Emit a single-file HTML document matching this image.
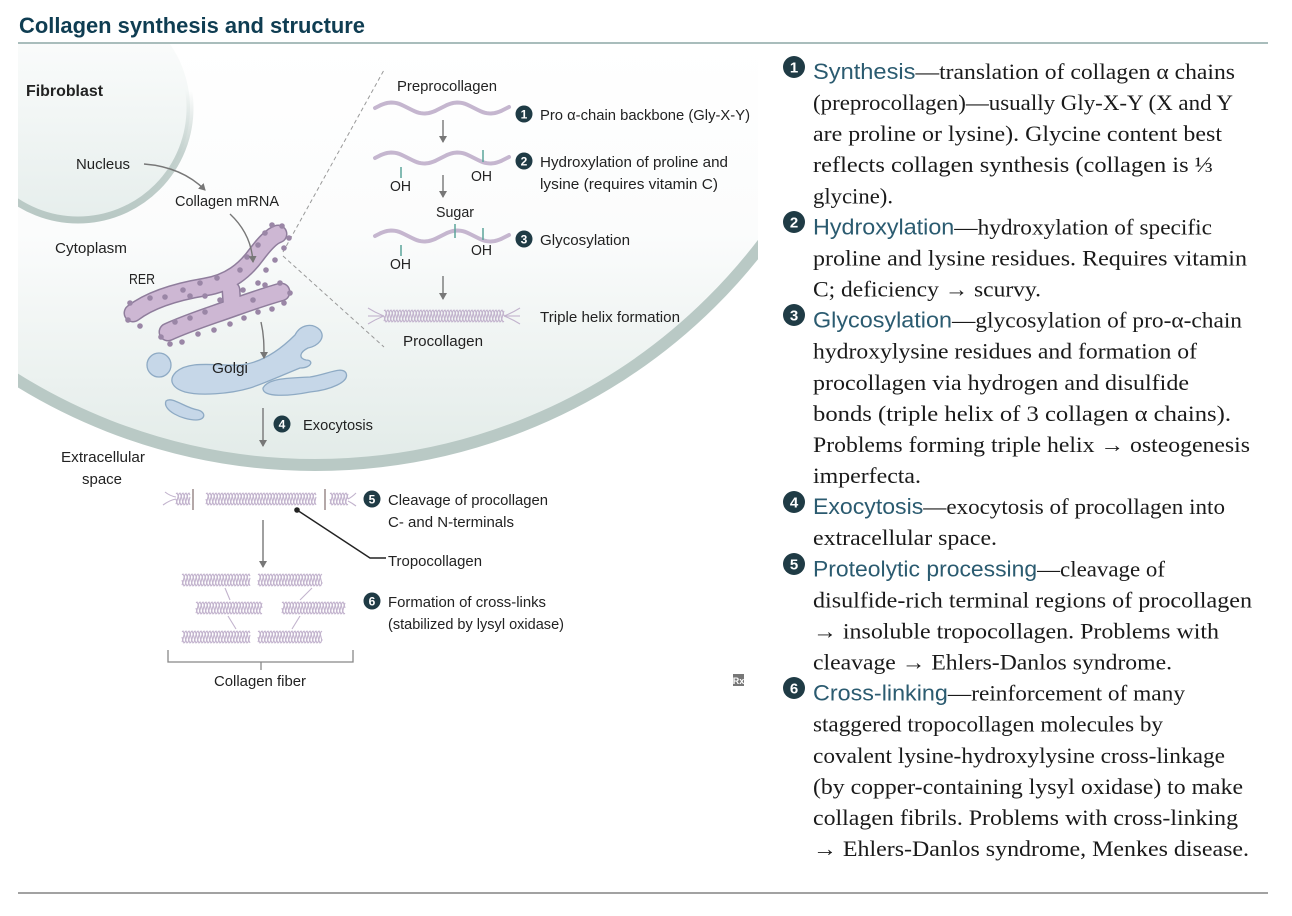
<!DOCTYPE html>
<html><head><meta charset="utf-8"><style>
html,body{margin:0;padding:0;background:#fff;width:1292px;height:916px;overflow:hidden}
svg{position:absolute;left:0;top:0}
.s{font-family:"Liberation Sans",sans-serif;font-size:15px;fill:#222}
.r{font-family:"Liberation Serif",serif;font-size:22px;fill:#1a1a1a}
.h{font-family:"Liberation Sans",sans-serif;fill:#2b5b70}
.n{font-family:"Liberation Sans",sans-serif;font-weight:bold;fill:#fff;text-anchor:middle}
</style></head><body>
<svg width="1292" height="916" viewBox="0 0 1292 916" xmlns="http://www.w3.org/2000/svg">
<defs>
<linearGradient id="cg" x1="0" y1="44" x2="0" y2="465" gradientUnits="userSpaceOnUse">
<stop offset="0" stop-color="#ffffff"/><stop offset="0.45" stop-color="#fbfcfc"/><stop offset="1" stop-color="#e2ebe8"/></linearGradient>
<linearGradient id="ng" x1="0" y1="-4" x2="0" y2="220" gradientUnits="userSpaceOnUse"><stop offset="0" stop-color="#b8c8c4" stop-opacity="0"/><stop offset="0.42" stop-color="#b8c8c4" stop-opacity="0"/><stop offset="0.7" stop-color="#b8c8c4" stop-opacity="0.8"/><stop offset="1" stop-color="#b8c8c4"/></linearGradient>
<linearGradient id="nf" x1="0" y1="0" x2="0" y2="1"><stop offset="0" stop-color="#fff"/><stop offset="1" stop-color="#e6eeec"/></linearGradient>
<clipPath id="cp"><rect x="18" y="44" width="740" height="500"/></clipPath>
<marker id="ar" markerWidth="8" markerHeight="8" refX="6" refY="4" orient="auto" markerUnits="userSpaceOnUse"><path d="M0,0 L7,4 L0,8 z" fill="#777"/></marker>
</defs>
<text x="19" y="33" style="font-family:'Liberation Sans',sans-serif;font-weight:bold;font-size:22px;fill:#0f3d52" textLength="346" lengthAdjust="spacingAndGlyphs">Collagen synthesis and structure</text>
<line x1="18" y1="43" x2="1268" y2="43" stroke="#a9bdbc" stroke-width="2"/>
<line x1="18" y1="893" x2="1268" y2="893" stroke="#444" stroke-width="1"/>
<g clip-path="url(#cp)">
<ellipse cx="315" cy="-90" rx="560" ry="555" fill="url(#cg)" stroke="#b9c9c5" stroke-width="12"/>
<circle cx="78" cy="108" r="112" fill="url(#nf)" stroke="url(#ng)" stroke-width="7"/>
</g>
<line x1="283" y1="252" x2="384" y2="70" stroke="#999" stroke-width="1" stroke-dasharray="4,3"/>
<line x1="283" y1="256" x2="384" y2="347" stroke="#999" stroke-width="1" stroke-dasharray="4,3"/>
<g fill="none" stroke-linecap="round" stroke-linejoin="round">
<g stroke="#8f7d9c" stroke-width="19">
<path d="M133,313 C150,300 175,292 205,287 C230,283 245,270 256,255 C265,243 272,236 278,234"/>
<path d="M168,332 C190,322 210,316 235,307 C255,300 270,295 281,292"/>
<path d="M231,290 L232,305"/>
</g>
<g stroke="#cdb7d3" stroke-width="16">
<path d="M133,313 C150,300 175,292 205,287 C230,283 245,270 256,255 C265,243 272,236 278,234"/>
<path d="M168,332 C190,322 210,316 235,307 C255,300 270,295 281,292"/>
<path d="M231,290 L232,305"/>
</g>
</g>
<g id="dots" fill="#9a86a6"></g>
<g fill="#c6d7e8" stroke="#8eaac4" stroke-width="1.3">
<circle cx="159" cy="365" r="12"/>
<path d="M176,372 C190,360 215,366 240,365 C262,363 280,350 295,335 C300,325 312,322 320,330 C326,338 318,346 308,348 C300,352 298,358 306,360 C314,360 312,368 300,368 C285,374 268,382 250,388 C230,394 200,396 185,392 C172,388 168,380 176,372 Z"/>
<path d="M263,388 C268,378 290,378 310,377 C328,374 342,366 346,373 C350,382 330,390 310,392 C290,396 262,398 263,388 Z"/>
<path d="M166,401 C172,396 185,408 198,410 C206,412 206,420 196,420 C182,420 162,410 166,401 Z"/>
</g>
<g stroke="#777" stroke-width="1.4" fill="none" marker-end="url(#ar)">
<path d="M144,164 C170,166 190,175 205,190"/>
<path d="M230,214 C245,228 252,245 253,262"/>
<path d="M261,322 C264,335 264,345 264,358"/>
<path d="M263,408 L263,446"/>
<path d="M443,120 L443,142"/>
<path d="M443,175 L443,197"/>
<path d="M443,276 L443,299"/>
<path d="M263,520 L263,567"/>
</g>
<g id="chains" fill="none" stroke="#c5b6cf" stroke-width="4" stroke-linecap="round"></g>
<g stroke="#5ba59a" stroke-width="1.5">
<line x1="401" y1="167" x2="401" y2="178"/><line x1="483" y1="150" x2="483" y2="162"/>
<line x1="455" y1="224" x2="455" y2="238"/>
<line x1="401" y1="245" x2="401" y2="256"/><line x1="483" y1="228" x2="483" y2="240"/>
</g>
<g id="helix" fill="none" stroke="#c2b3cd" stroke-width="1.1"></g>
<g stroke="#9a8a8a" stroke-width="1.5">
<line x1="193" y1="489" x2="193" y2="510"/><line x1="325" y1="489" x2="325" y2="510"/>
</g>
<circle cx="297" cy="510" r="2.8" fill="#222"/>
<polyline points="297,510 370,558 386,558" fill="none" stroke="#222" stroke-width="1.4"/>
<polyline points="168,650 168,662 353,662 353,650" fill="none" stroke="#888" stroke-width="1.3"/>
<line x1="261" y1="662" x2="261" y2="670" stroke="#888" stroke-width="1.3"/>
<g fill="#1f3b45">
<circle cx="524" cy="114" r="8.5"/><circle cx="524" cy="161" r="8.5"/><circle cx="524" cy="239" r="8.5"/>
<circle cx="282" cy="424" r="8.5"/><circle cx="372" cy="499" r="8.5"/><circle cx="372" cy="601" r="8.5"/>
</g>
<g class="n" style="font-size:12px">
<text x="524" y="118.5">1</text><text x="524" y="165.5">2</text><text x="524" y="243.5">3</text>
<text x="282" y="428.5">4</text><text x="372" y="503.5">5</text><text x="372" y="605.5">6</text>
</g>
<g id="lbl"></g>
<rect x="733" y="674" width="11" height="12" fill="#777"/>
<text x="738.5" y="684" style="font-family:'Liberation Sans',sans-serif;font-size:9px;fill:#fff;text-anchor:middle;font-weight:bold">Rx</text>
<g fill="#1f3b45">
<circle cx="794" cy="67" r="11"/><circle cx="794" cy="222" r="11"/><circle cx="794" cy="315" r="11"/>
<circle cx="794" cy="502" r="11"/><circle cx="794" cy="564" r="11"/><circle cx="794" cy="688" r="11"/>
</g>
<g class="n" style="font-size:15px">
<text x="794" y="72.5">1</text><text x="794" y="227.5">2</text><text x="794" y="320.5">3</text>
<text x="794" y="507.5">4</text><text x="794" y="569.5">5</text><text x="794" y="693.5">6</text>
</g>
<g id="rt"></g>
</svg>
<script>
var NS="http://www.w3.org/2000/svg";
function el(p,t,a){var e=document.createElementNS(NS,t);for(var k in a)e.setAttribute(k,a[k]);p.appendChild(e);return e;}
var lb=document.getElementById('lbl');
[["Fibroblast",26,96,77,1],["Nucleus",76,169,54],["Collagen mRNA",175,206,104],["Cytoplasm",55,253,72],["RER",129,284,26],
["Golgi",212,373,36],["Exocytosis",303,430,70],["Extracellular",61,462,84],["space",82,484,40],["Preprocollagen",397,91,100],
["Pro α-chain backbone (Gly-X-Y)",540,120,210],["Hydroxylation of proline and",540,167,188],["lysine (requires vitamin C)",540,189,178],
["OH",390,191,21],["OH",471,181,21],["Sugar",436,217,38],["Glycosylation",540,245,90],["OH",390,269,21],["OH",471,255,21],
["Triple helix formation",540,322,140],["Procollagen",403,346,80],["Cleavage of procollagen",388,505,160],["C- and N-terminals",388,527,126],
["Tropocollagen",388,566,94],["Formation of cross-links",388,607,158],["(stabilized by lysyl oxidase)",388,629,176],["Collagen fiber",214,686,92]
].forEach(function(l){var t=el(lb,'text',{x:l[1],y:l[2],'class':'s',textLength:l[3],lengthAdjust:'spacingAndGlyphs'});
 if(l[4]){t.setAttribute('style','font-weight:bold;font-size:16px');}t.textContent=l[0];});
var ch=document.getElementById('chains');
function wave(x0,x1,y,amp,per,ph){var d="";for(var x=x0;x<=x1;x+=2){var yy=y+amp*Math.sin((x-x0)/per*2*Math.PI+ph);d+=(x==x0?"M":"L")+x+","+yy.toFixed(1);}return d;}
el(ch,'path',{d:wave(375,510,108,5.5,66,Math.PI)});
el(ch,'path',{d:wave(375,510,158,5.5,66,Math.PI)});
el(ch,'path',{d:wave(375,510,236,5.5,66,Math.PI)});
var hx=document.getElementById('helix');
function helix(x0,x1,y,amp,per,flare){
 for(var k=0;k<3;k++){var ph=k*2*Math.PI/3;var d="";
  for(var x=x0;x<=x1;x+=1){var yy=y+amp*Math.sin((x-x0)/per*2*Math.PI+ph);d+=(x==x0?"M":"L")+x+","+yy.toFixed(1);}
  el(hx,'path',{d:d});}
 if(flare){for(var k=-1;k<=1;k++){el(hx,'path',{d:"M"+x0+","+y+" Q"+(x0-8)+","+(y+k*3)+" "+(x0-16)+","+(y+k*8)});el(hx,'path',{d:"M"+x1+","+y+" Q"+(x1+8)+","+(y+k*3)+" "+(x1+16)+","+(y+k*8)});}}
}
helix(384,504,316,6,9,true);
helix(176,190,499,6,9,false);el(hx,'path',{d:"M176,499 Q170,500 163,505"});el(hx,'path',{d:"M176,497 Q170,496 165,492"});
helix(206,316,499,6,9,false);
helix(330,348,499,6,9,false);el(hx,'path',{d:"M348,499 Q352,497 356,493"});el(hx,'path',{d:"M348,501 Q352,503 356,506"});
[[182,250,580],[258,322,580],[196,262,608],[282,345,608],[182,250,637],[258,322,637]].forEach(function(r){helix(r[0],r[1],r[2],6,9,false);});
[[225,588,230,600],[312,588,300,600],[228,616,236,629],[300,616,292,629]].forEach(function(c){el(hx,'path',{d:"M"+c[0]+","+c[1]+" L"+c[2]+","+c[3]});});
var dg=document.getElementById('dots');
[[130,303],[128,320],[140,326],[150,298],[165,297],[183,290],[200,283],[217,278],[240,270],[247,257],[258,245],[265,233],[272,225],[282,226],[289,238],[284,248],[275,260],[266,270],[258,283],[253,300],[265,285],[280,283],[290,293],[284,303],[272,309],[258,312],[244,318],[230,324],[214,330],[198,334],[182,342],[170,344],[161,337],[175,322],[190,318],[205,312],[190,296],[205,296],[220,300],[243,290]].forEach(function(p){el(dg,'circle',{cx:p[0],cy:p[1],r:2.8});});
var rt=document.getElementById('rt');
var L=[
["Synthesis","—translation of collagen α chains",1235],
["","(preprocollagen)—usually Gly-X-Y (X and Y",1233],
["","are proline or lysine). Glycine content best",1222],
["","reflects collagen synthesis (collagen is ⅓",1213],
["","glycine).",893],
["Hydroxylation","—hydroxylation of specific",1212],
["","proline and lysine residues. Requires vitamin",1247],
["","C; deficiency → scurvy.",1041],
["Glycosylation","—glycosylation of pro-α-chain",1242],
["","hydroxylysine residues and formation of",1197],
["","procollagen via hydrogen and disulfide",1189],
["","bonds (triple helix of 3 collagen α chains).",1231],
["","Problems forming triple helix → osteogenesis",1250],
["","imperfecta.",921],
["Exocytosis","—exocytosis of procollagen into",1225],
["","extracellular space.",997],
["Proteolytic processing","—cleavage of",1165],
["","disulfide-rich terminal regions of procollagen",1252],
["","→ insoluble tropocollagen. Problems with",1219],
["","cleavage → Ehlers-Danlos syndrome.",1172],
["Cross-linking","—reinforcement of many",1185],
["","staggered tropocollagen molecules by",1163],
["","covalent lysine-hydroxylysine cross-linkage",1225],
["","(by copper-containing lysyl oxidase) to make",1243],
["","collagen fibrils. Problems with cross-linking",1238],
["","→ Ehlers-Danlos syndrome, Menkes disease.",1249]];
L.forEach(function(l,i){var y=(79+i*31.08).toFixed(1);
 var t=el(rt,'text',{x:813,y:y,'class':'r',textLength:(l[2]-813),lengthAdjust:'spacingAndGlyphs'});
 if(l[0]){var a=el(t,'tspan',{'class':'h'});a.textContent=l[0];}
 var b=el(t,'tspan',{});b.textContent=l[1];});
</script>
</body></html>
